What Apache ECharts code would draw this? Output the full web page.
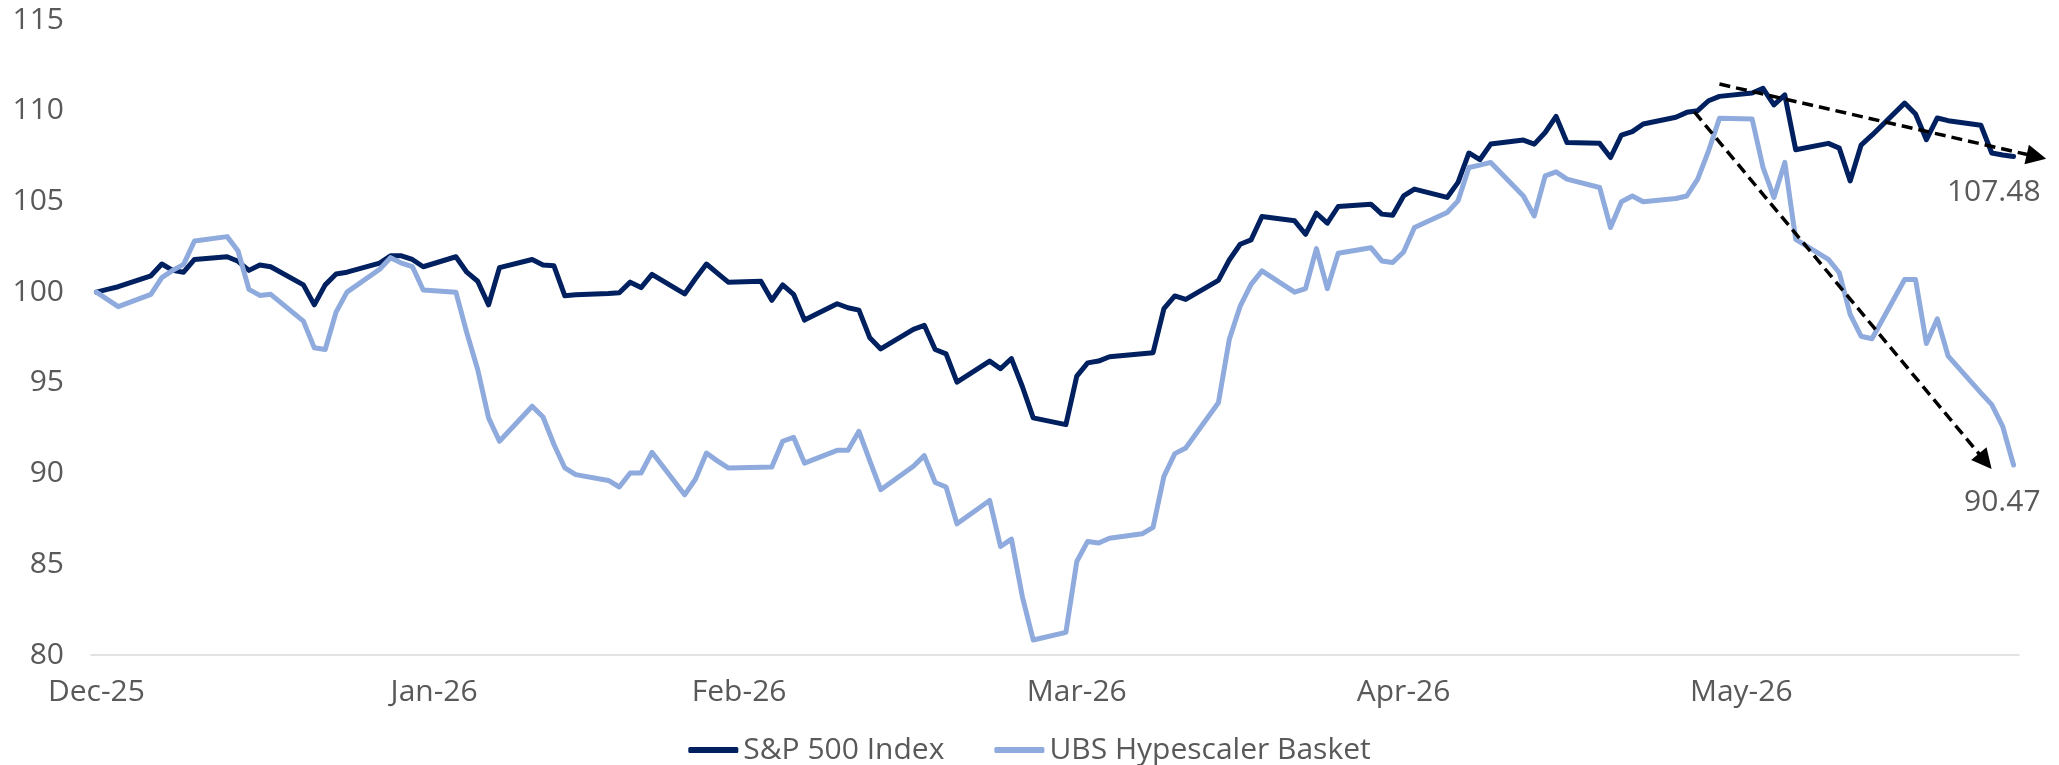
<!DOCTYPE html>
<html>
<head>
<meta charset="utf-8">
<title>S&amp;P 500 vs UBS Hypescaler Basket</title>
<script src="https://cdn.jsdelivr.net/npm/echarts@6/dist/echarts.min.js"></script>
<style>
  html, body { margin: 0; padding: 0; background: #fff; }
  #chart { width: 2059px; height: 765px; }
</style>
</head>
<body>
<div id="chart"></div>
<script>
// one category per calendar day, month ticks on the band boundaries
const dayCount = 177;
const monthLabels = ['Dec-25', 'Jan-26', 'Feb-26', 'Mar-26', 'Apr-26', 'May-26'];
const monthStarts = [0, 31, 59, 90, 120, 151];

// day offsets of the trading sessions (weekends have no value)
const tradeDays = [
  0, 1, 2,
  5, 6, 7, 8, 9,
  12, 13, 14, 15, 16,
  19, 20, 21, 22, 23,
  26, 27, 28, 29, 30,
  33, 34, 35, 36, 37,
  40, 41, 42, 43, 44,
  47, 48, 49, 50, 51,
  54, 55, 56, 57, 58,
  61, 62, 63, 64, 65,
  68, 69, 70, 71, 72,
  75, 76, 77, 78, 79,
  82, 83, 84, 85, 86,
  89, 90, 91, 92, 93,
  96, 97, 98, 99, 100,
  103, 104, 105, 106, 107,
  110, 111, 112, 113, 114,
  117, 118, 119, 120, 121,
  124, 125, 126, 127, 128,
  131, 132, 133, 134, 135,
  138, 139, 140, 141, 142,
  145, 146, 147, 148, 149,
  152, 153, 154, 155, 156,
  159, 160, 161, 162, 163,
  166, 167, 168, 169, 170,
  173, 174, 175, 176
];

const spx = [
  100.0, 100.15, 100.3,
  100.9, 101.55, 101.2, 101.1, 101.8,
  101.95, 101.7, 101.2, 101.5, 101.4,
  100.4, 99.3, 100.4, 101.0, 101.1,
  101.6, 102.0, 102.0, 101.8, 101.4,
  101.95, 101.1, 100.6, 99.3, 101.35,
  101.8, 101.5, 101.45, 99.8, 99.85,
  99.93, 99.97, 100.55, 100.25, 100.98,
  99.9, 100.75, 101.55, 101.05, 100.55,
  100.6, 99.55, 100.4, 99.88, 98.46,
  99.36, 99.14, 99.01, 97.48, 96.87,
  97.95, 98.17, 96.84, 96.6, 95.04,
  96.2, 95.78, 96.34, 94.8, 93.07,
  92.7, 95.37, 96.1, 96.2, 96.44,
  96.6, 96.66, 99.09, 99.79, 99.6,
  100.65, 101.77, 102.64, 102.88, 104.17,
  103.93, 103.19, 104.35, 103.8, 104.72,
  104.85, 104.3, 104.24, 105.3, 105.68,
  105.22, 106.05, 107.67, 107.3, 108.16,
  108.38, 108.16, 108.8, 109.69, 108.25,
  108.2, 107.42, 108.66, 108.85, 109.27,
  109.64, 109.91, 110.0, 110.55, 110.79,
  110.98, 111.23, 110.32, 110.87, 107.85,
  108.2, 107.94, 106.13, 108.1, 108.65,
  110.42, 109.82, 108.4, 109.6, 109.45,
  109.2, 107.67, 107.56, 107.48
];

const ubs = [
  100.0, 99.6, 99.2,
  99.88, 100.8, 101.2, 101.53, 102.82,
  103.06, 102.27, 100.15, 99.82, 99.88,
  98.4, 96.93, 96.84, 98.9, 100.0,
  101.26, 101.9, 101.6, 101.41, 100.12,
  100.0, 97.76, 95.74, 93.07, 91.78,
  93.71, 93.12, 91.6, 90.31, 89.94,
  89.62, 89.26, 90.03, 90.03, 91.17,
  88.83, 89.7, 91.13, 90.7, 90.31,
  90.35, 90.36, 91.78, 92.0, 90.58,
  91.28, 91.28, 92.33, 90.7, 89.11,
  90.4, 90.99, 89.51, 89.26, 87.23,
  88.52, 85.98, 86.39, 83.22, 80.83,
  81.25, 85.15, 86.26, 86.17, 86.44,
  86.68, 87.03, 89.85, 91.1, 91.41,
  93.9, 97.39, 99.23, 100.43, 101.17,
  100.0, 100.19, 102.4, 100.19, 102.14,
  102.45, 101.72, 101.63, 102.21, 103.56,
  104.39, 105.03, 106.87, 107.0, 107.15,
  105.3, 104.2, 106.41, 106.63, 106.23,
  105.77, 103.56, 104.98, 105.3, 104.98,
  105.16, 105.3, 106.23, 107.79, 109.58,
  109.54, 106.87, 105.22, 107.15, 102.91,
  101.81, 101.07, 98.77, 97.57, 97.43,
  100.7, 100.7, 97.17, 98.53, 96.47,
  94.45, 93.8, 92.6, 90.47
];

// dashed trend arrows: [day, value] start -> end
const trendSpx = [[149.0, 111.47], [178.1, 107.47]];
const trendUbs = [[146.7, 109.93], [173.4, 90.68]];

const font = "'Open Sans', sans-serif";
const textColor = '#595959';

function toDaily(values) {
  let out = new Array(dayCount).fill(null);
  tradeDays.forEach(function (d, i) {
    out[d] = values[i];
  });
  return out;
}

let days = [];
for (let i = 0; i < dayCount; i++) {
  let k = monthStarts.indexOf(i);
  days.push(k >= 0 ? monthLabels[k] : String(i));
}
const isMonthStart = (i) => monthStarts.indexOf(i) >= 0;

function lineSeries(name, values, color, padTop) {
  return {
    name: name,
    type: 'line',
    data: toDaily(values),
    connectNulls: true,
    symbol: 'none',
    lineStyle: {color: color, width: 5, cap: 'round', join: 'round'},
    itemStyle: {color: color},
    endLabel: {
      show: true,
      formatter: p => p.value.toFixed(2),
      color: textColor,
      fontSize: 30,
      fontFamily: font,
      lineHeight: 30,
      align: 'right',
      verticalAlign: 'top',
      distance: 27,
      padding: [padTop, 0, 0, 0]
    }
  };
}

let chart = echarts.init(document.getElementById('chart'), null, {renderer: 'canvas'});
chart.setOption({
  animation: false,
  backgroundColor: '#ffffff',
  grid: {left: 91, right: 40, top: 20, bottom: 110},
  xAxis: [{
    type: 'category',
    data: days,
    boundaryGap: true,
    axisLine: {lineStyle: {color: '#d9d9d9', width: 1.5}},
    axisTick: {length: 8, interval: isMonthStart, lineStyle: {color: '#d9d9d9', width: 1.5}},
    axisLabel: {interval: isMonthStart, color: textColor, fontSize: 30, fontFamily: font, margin: 22},
    splitLine: {show: false}
  }, {
    type: 'value',
    min: -0.5,
    max: dayCount - 0.5,
    show: false
  }],
  yAxis: {
    type: 'value',
    min: 80,
    max: 115,
    interval: 5,
    axisLine: {show: false},
    axisTick: {show: false},
    splitLine: {show: false},
    axisLabel: {color: textColor, fontSize: 30, fontFamily: font, margin: 27}
  },
  legend: {
    data: ['S&P 500 Index', 'UBS Hypescaler Basket'],
    left: 'center',
    top: 730,
    icon: 'roundRect',
    itemWidth: 50,
    itemHeight: 6,
    itemGap: 50,
    textStyle: {color: textColor, fontSize: 30, fontFamily: font}
  },
  series: [
    lineSeries('S&P 500 Index', spx, '#002060', 21),
    lineSeries('UBS Hypescaler Basket', ubs, '#8faadc', 22),
    {
      type: 'lines',
      coordinateSystem: 'cartesian2d',
      xAxisIndex: 1,
      yAxisIndex: 0,
      clip: false,
      silent: true,
      z: 5,
      symbol: ['none', 'triangle'],
      symbolSize: 20,
      lineStyle: {color: '#000000', width: 3.5, type: [11, 6], opacity: 1, curveness: 0},
      data: [{coords: trendSpx}, {coords: trendUbs}]
    }
  ]
});
</script>
</body>
</html>
